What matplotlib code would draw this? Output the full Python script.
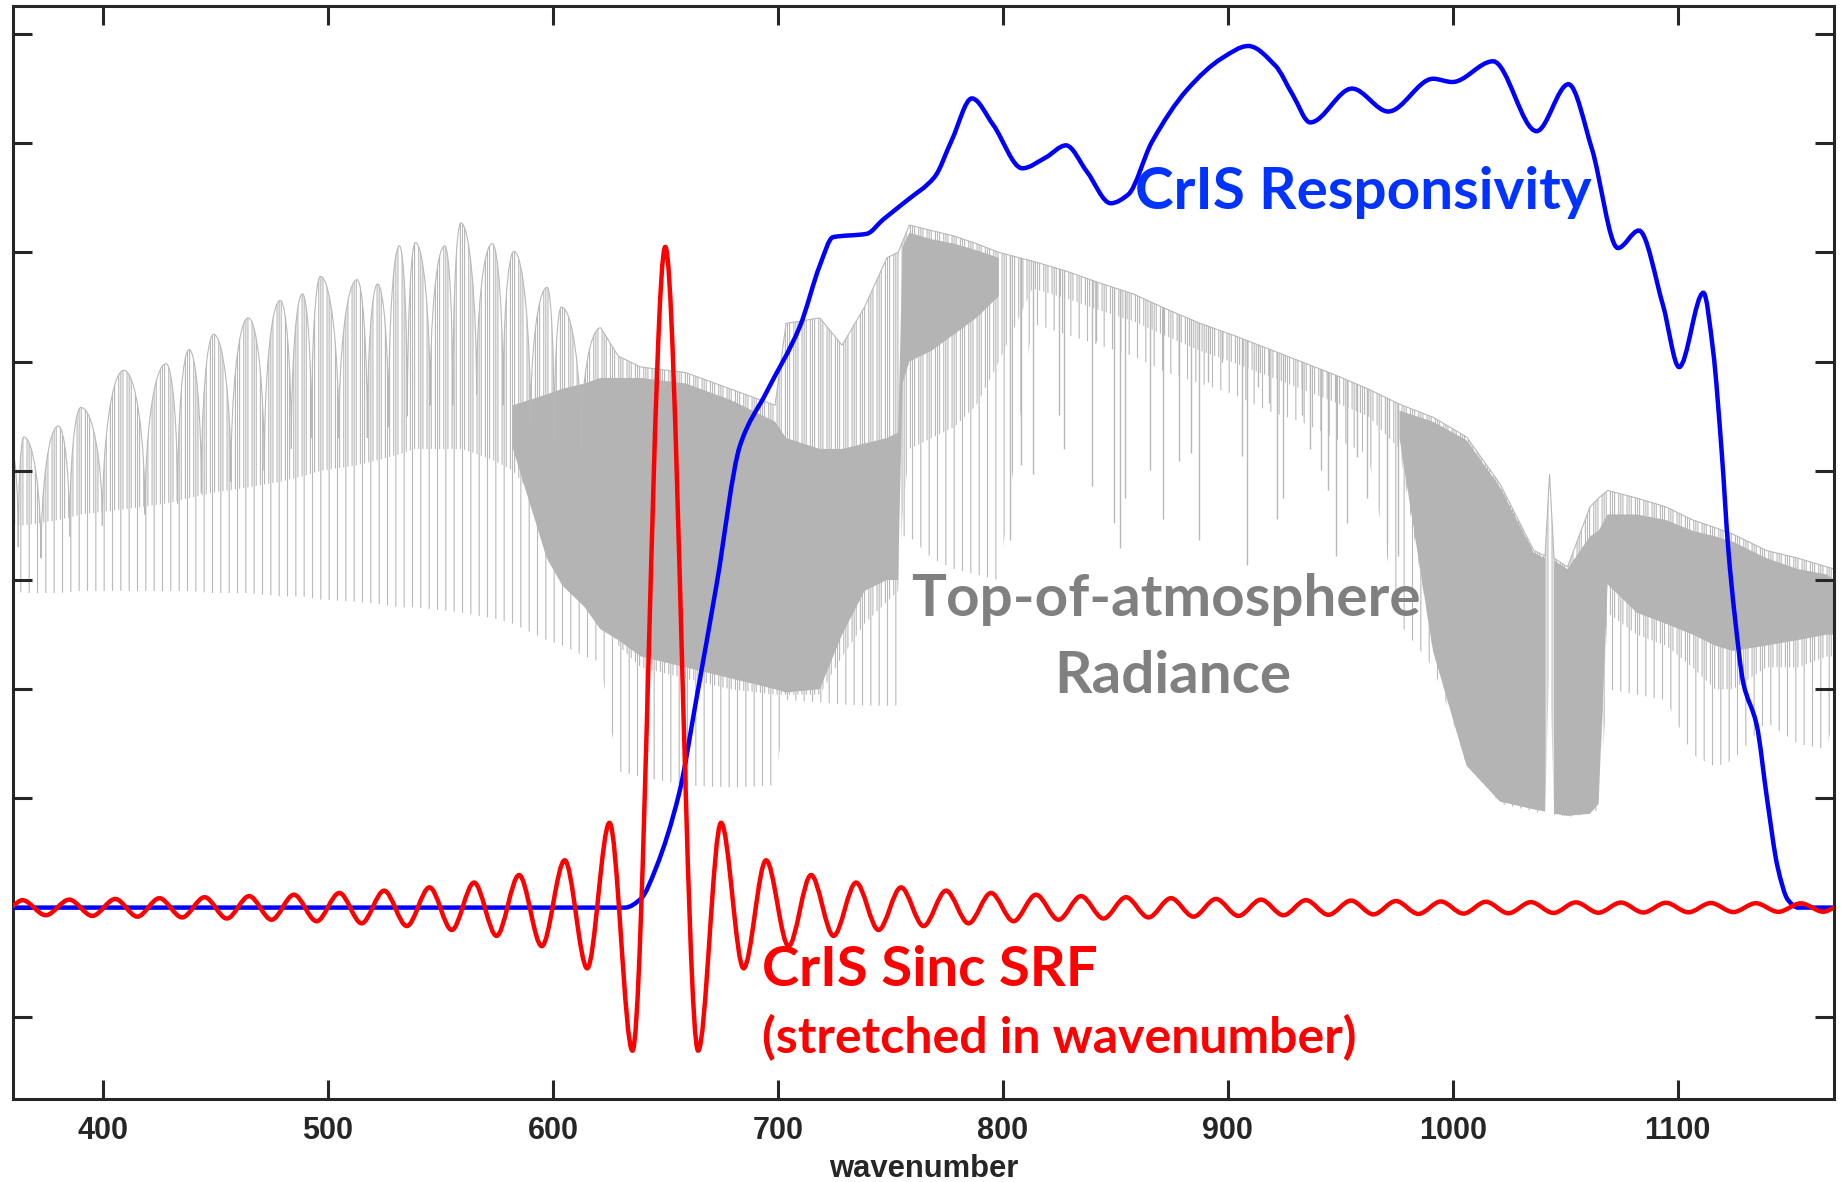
"""
CrIS responsivity, sinc SRF and top-of-atmosphere radiance (schematic).
Values read off the reference picture.
"""
import numpy as np
import matplotlib
matplotlib.use('Agg')
import matplotlib.pyplot as plt
from matplotlib.path import Path
from matplotlib.patches import PathPatch

# ── sinc SRF: extrema (wavenumber, value) ────────────────────────────────────
srf_wn = [359.8, 364.1, 374.5, 384.9, 395.2, 405.4, 415.2, 425.0, 435.1, 445.1,
          455.0, 464.9, 474.9, 484.8, 494.9, 505.0, 514.9, 524.9, 535.0, 545.1,
          555.0, 564.9, 574.9, 584.9, 595.0, 605.2, 615.2, 625.1, 635.3, 649.9,
          664.5, 674.7, 684.7, 694.7, 704.7, 714.7, 724.7, 734.7, 744.7, 754.7,
          764.7, 774.7, 784.7, 794.7, 804.7, 814.7, 824.7, 834.7, 844.7, 854.7,
          864.7, 874.7, 884.7, 894.7, 904.7, 914.7, 924.7, 934.7, 944.7, 954.7,
          964.7, 974.7, 984.7, 994.7, 1004.7, 1014.7, 1024.7, 1034.7, 1044.7, 1054.7,
          1064.7, 1074.7, 1084.7, 1094.7, 1104.7, 1114.7, 1124.7, 1134.7, 1144.7, 1154.7,
          1164.7, 1169.6]
srf_val = [0.015, 0.068, -0.070, 0.073, -0.076, 0.079, -0.083, 0.086, -0.090, 0.095,
           -0.100, 0.105, -0.111, 0.118, -0.125, 0.134, -0.144, 0.155, -0.169, 0.185,
           -0.205, 0.229, -0.259, 0.298, -0.353, 0.433, -0.556, 0.776, -1.31, 6.05,
           -1.31, 0.776, -0.556, 0.433, -0.353, 0.298, -0.259, 0.229, -0.205, 0.185,
           -0.169, 0.155, -0.144, 0.134, -0.125, 0.118, -0.111, 0.105, -0.100, 0.095,
           -0.090, 0.086, -0.083, 0.079, -0.076, 0.073, -0.070, 0.068, -0.066, 0.064,
           -0.062, 0.060, -0.058, 0.056, -0.055, 0.053, -0.052, 0.050, -0.049, 0.048,
           -0.047, 0.046, -0.045, 0.044, -0.043, 0.042, -0.041, 0.040, -0.039, 0.039,
           -0.038, 0.0]

# ── CrIS responsivity ────────────────────────────────────────────────────────
resp_wn = [359.8, 600.0, 632.0, 639.0, 645.9, 656.1, 663.8, 672.8, 683.1, 694.9,
           709.7, 718.6, 724.5, 739.4, 746.7, 757.0, 769.6, 777.3, 786.2, 795.6,
           808.6, 819.1, 828.0, 837.3, 847.9, 855.7, 866.2, 881.9, 897.5, 909.1,
           921.1, 928.9, 936.6, 955.2, 971.3, 991.2, 999.8, 1017.9, 1037.2, 1051.4,
           1061.8, 1073.4, 1082.7, 1093.5, 1100.6, 1111.4, 1115.7, 1119.5, 1122.5, 1125.4,
           1129.2, 1135.0, 1139.8, 1144.4, 1149.0, 1153.5, 1169.6]
resp_val = [0.0, 0.0, 0.0, 0.08, 0.37, 1.05, 1.92, 2.97, 4.23, 4.72,
            5.32, 5.88, 6.14, 6.17, 6.30, 6.47, 6.69, 7.03, 7.41, 7.17,
            6.77, 6.87, 6.98, 6.74, 6.45, 6.53, 7.01, 7.49, 7.78, 7.89,
            7.71, 7.44, 7.19, 7.50, 7.29, 7.59, 7.56, 7.75, 7.11, 7.54,
            6.95, 6.04, 6.20, 5.51, 4.95, 5.63, 5.10, 4.18, 3.27, 2.66,
            2.05, 1.68, 0.98, 0.37, 0.07, 0.0, 0.0]

# ── TOA radiance ─────────────────────────────────────────────────────────────
# far-IR windows (arch tops) and the line cores between them
arch_start = (359.8, 4.15)
arch_wn = [364.7, 380.1, 390.1, 409.2, 428.0, 438.2, 449.1, 464.5, 478.7, 488.6,
           496.6, 512.9, 522.0, 531.7, 538.8, 551.9, 559.0, 573.0, 582.6, 597.4,
           603.7, 621.2]
arch_top = [4.31, 4.41, 4.58, 4.92, 4.98, 5.11, 5.25, 5.40, 5.56, 5.62,
            5.78, 5.75, 5.71, 6.06, 6.09, 6.06, 6.27, 6.08, 6.01, 5.68,
            5.50, 5.31]
arch_dip = [3.3, 3.2, 3.4, 3.5, 3.6, 3.7, 3.8, 3.9, 4.0, 4.2,
            4.3, 4.3, 4.3, 4.4, 4.5, 4.6, 4.6, 4.7, 4.6, 4.4,
            4.3, 4.2]
# upper envelope beyond the far-IR windows
cont_wn = [629.0, 639.0, 658.9, 678.8, 698.7, 703.6, 718.6, 728.5, 738.5, 748.4,
           753.4, 755.4, 758.4, 768.3, 778.3, 788.2, 798.2, 813.1, 828.0, 843.0,
           857.9, 872.8, 887.7, 902.6, 917.6, 932.5, 947.4, 962.3, 976.3, 991.2,
           1006.1, 1021.0, 1036.0, 1041.0, 1043.0, 1045.0, 1051.0, 1061.0, 1064.8, 1068.8,
           1081.8, 1094.7, 1106.6, 1116.6, 1124.5, 1139.4, 1153.4, 1166.3, 1169.6]
cont_top = [5.05, 4.95, 4.90, 4.75, 4.60, 5.35, 5.40, 5.15, 5.50, 5.95,
            6.00, 6.10, 6.25, 6.20, 6.15, 6.08, 6.00, 5.92, 5.83, 5.72,
            5.62, 5.48, 5.35, 5.24, 5.12, 5.00, 4.88, 4.75, 4.61, 4.49,
            4.31, 3.88, 3.27, 3.22, 3.97, 3.20, 3.12, 3.67, 3.75, 3.82,
            3.75, 3.67, 3.55, 3.48, 3.42, 3.27, 3.20, 3.12, 3.10]

# lower limits: deepest lines, dense-line band, saturated core
nan = np.nan
rad_wn = [359.8, 365.3, 380.3, 390.2, 410.1, 428.0, 438.0, 449.0, 464.8, 478.8,
          488.7, 496.7, 512.6, 522.5, 531.5, 538.5, 552.4, 559.4, 573.3, 582.2,
          597.2, 604.1, 614.1, 621.0, 629.0, 639.0, 658.9, 678.8, 698.7, 703.6,
          718.6, 728.5, 738.5, 748.4, 753.4, 755.4, 758.4, 768.3, 778.3, 788.2,
          798.2, 813.1, 828.0, 843.0, 857.9, 872.8, 887.7, 902.6, 917.6, 932.5,
          947.4, 962.3, 976.3, 991.2, 1006.1, 1021.0, 1036.0, 1041.0, 1043.0, 1045.0,
          1051.0, 1061.0, 1064.8, 1068.8, 1081.8, 1094.7, 1106.6, 1116.6, 1124.5, 1139.4,
          1153.4, 1166.3, 1169.6]
rad_lo = [2.90, 2.88, 2.88, 2.90, 2.90, 2.90, 2.90, 2.88, 2.88, 2.85,
          2.85, 2.82, 2.80, 2.78, 2.75, 2.75, 2.72, 2.70, 2.65, 2.60,
          2.45, 2.40, 2.30, 2.25, 1.25, 1.20, 1.12, 1.10, 1.12, 1.90,
          1.88, 1.86, 1.85, 1.85, 1.85, 3.40, 3.40, 3.20, 3.10, 3.05,
          3.00, 5.35, 5.25, 5.15, 5.05, 4.90, 4.80, 4.70, 4.55, 4.45,
          4.30, 4.15, 2.60, 2.20, 1.35, 0.95, 0.88, 0.86, 2.20, 0.85,
          0.83, 0.86, 0.90, 2.00, 1.95, 1.90, 1.40, 1.29, 1.35, 1.70,
          1.50, 1.45, 1.80]
rad_mid = [3.50, 3.50, 3.55, 3.60, 3.65, 3.70, 3.75, 3.80, 3.85, 3.90,
           3.95, 4.00, 4.05, 4.10, 4.15, 4.20, 4.20, 4.20, 4.10, 4.00,
           3.60, 3.40, 3.00, 2.70, 2.40, 2.20, 2.10, 2.00, 1.95, 1.95,
           1.95, 2.30, 2.60, 2.80, 2.90, 3.60, 4.20, 4.30, 4.40, 4.60,
           5.00, 5.67, 5.58, 5.47, 5.37, 5.23, 5.10, 4.99, 4.87, 4.75,
           4.63, 4.50, 4.20, 2.35, 1.30, 0.97, 0.90, 0.88, 2.30, 0.86,
           0.84, 0.86, 0.95, 2.70, 2.50, 2.40, 2.20, 2.00, 2.00, 2.20,
           2.20, 2.30, 2.30]
core_top = [nan] * 19 + [4.60,
            4.70, 4.75, 4.80, 4.85, 4.85, 4.85, 4.80, 4.65, 4.45, 4.30,
            4.20, 4.20, 4.25, 4.30, 4.35, 6.05, 6.18, 6.12, 6.08, 6.02,
            5.95] + [nan] * 11 + [4.55, 4.45, 4.28, 3.85, 3.25, 3.20, nan, 3.18,
            3.10, 3.40, 3.45, 3.60, 3.60, 3.55, 3.45, 3.40, 3.35, 3.20,
            3.10, 3.05, 3.00]
core_lo = [nan] * 19 + [4.20,
           3.20, 2.95, 2.75, 2.55, 2.45, 2.30, 2.20, 2.10, 2.00, 1.97,
           2.00, 2.50, 2.90, 3.00, 3.00, 4.80, 5.00, 5.10, 5.25, 5.40,
           5.60] + [nan] * 11 + [4.30, 2.35, 1.30, 0.97, 0.90, 0.88, nan, 0.86,
           0.84, 0.86, 0.95, 2.96, 2.70, 2.60, 2.50, 2.40, 2.35, 2.40,
           2.45, 2.50, 2.50]
# individual deep lines in the 800-980 window (position, depth)
line_wn = [803.1, 807.9, 813.5, 825.1, 827.3, 839.5, 841.4, 849.5, 852.0, 854.4,
           865.4, 871.0, 878.3, 883.5, 887.0, 891.3, 897.2, 906.1, 908.6, 913.5,
           918.4, 922.0, 924.6, 932.8, 936.5, 941.3, 944.6, 948.1, 952.8, 957.3,
           961.7, 970.6, 975.8]
line_lo = [3.37, 4.05, 3.97, 4.51, 4.20, 3.86, 5.19, 3.52, 3.29, 3.75,
           4.01, 3.56, 4.09, 4.16, 3.37, 4.81, 5.00, 4.14, 3.14, 4.77,
           4.62, 3.56, 3.75, 4.51, 4.20, 4.01, 3.82, 3.22, 3.52, 4.13,
           3.75, 3.33, 3.22]

XTICKS = [400, 500, 600, 700, 800, 900, 1000, 1100]
YTICKS = list(range(-1, 9))

BLUE, RED = '#0000ff', '#ff0000'
GRAY_LINE, GRAY_CORE = '#b8b8b8', '#b4b4b4'
TXT_FONT = ['Lato', 'DejaVu Sans']


def smooth_path(x, y):
    """Monotone cubic (Bezier) path through the given points."""
    x = np.asarray(x, float); y = np.asarray(y, float)
    d = np.diff(y) / np.diff(x)
    m = np.zeros_like(x)
    m[0], m[-1] = d[0], d[-1]
    for i in range(1, len(x) - 1):
        if d[i - 1] * d[i] > 0:
            m[i] = 2.0 / (1.0 / d[i - 1] + 1.0 / d[i])
    verts = [(x[0], y[0])]
    codes = [Path.MOVETO]
    for i in range(len(x) - 1):
        h = (x[i + 1] - x[i]) / 3.0
        verts += [(x[i] + h, y[i] + m[i] * h),
                  (x[i + 1] - h, y[i + 1] - m[i + 1] * h),
                  (x[i + 1], y[i + 1])]
        codes += [Path.CURVE4] * 3
    return Path(verts, codes)


def spectrum_top(k=0.5523):
    """Upper outline: rounded windows with narrow line cores, then envelope."""
    px, py = arch_start
    verts, codes = [(px, py)], [Path.MOVETO]
    for x, t, d in zip(arch_wn, arch_top, arch_dip):
        xb = 0.5 * (px + x)
        verts += [(px + k * (xb - px), py), (xb, d + k * (py - d)), (xb, d),
                  (xb, d + k * (t - d)), (x - k * (x - xb), t), (x, t)]
        codes += [Path.CURVE4] * 6
        px, py = x, t
    verts += list(zip(cont_wn, cont_top))
    codes += [Path.LINETO] * len(cont_wn)
    return verts, codes


def band_path(lower_x, lower_y):
    verts, codes = spectrum_top()
    verts += list(zip(lower_x[::-1], lower_y[::-1])) + [(0, 0)]
    codes += [Path.LINETO] * len(lower_x) + [Path.CLOSEPOLY]
    return Path(verts, codes)


plt.rcParams['hatch.linewidth'] = 0.8
plt.rcParams['hatch.color'] = GRAY_LINE

fig = plt.figure(figsize=(18.43, 11.82), dpi=100)
ax = fig.add_axes([0.0069, 0.0702, 0.9884, 0.9247])

# radiance: deep lines, dense lines near the top, saturated core, outline
ax.add_patch(PathPatch(band_path(rad_wn, rad_lo), facecolor='none',
                       edgecolor=GRAY_LINE, hatch='||', linewidth=0, zorder=1))
ax.add_patch(PathPatch(band_path(rad_wn, rad_mid), facecolor='none',
                       edgecolor=GRAY_LINE, hatch='||||', linewidth=0, zorder=1))
ax.fill_between(rad_wn, np.array(core_lo), np.array(core_top), color=GRAY_CORE,
                linewidth=0, zorder=1)
under = PathPatch(band_path([359.8, 1169.6], [-2.0, -2.0]), transform=ax.transData)
deep = ax.vlines(line_wn, line_lo, 7.0, colors=GRAY_LINE, lw=1.0, zorder=1)
deep.set_clip_path(under)
tv, tc = spectrum_top()
ax.add_patch(PathPatch(Path(tv, tc), fill=False, edgecolor=GRAY_LINE, lw=0.8,
                       zorder=1))

ax.add_patch(PathPatch(smooth_path(resp_wn, resp_val), fill=False,
                       edgecolor=BLUE, lw=3.2, zorder=3, capstyle='round'))
ax.add_patch(PathPatch(smooth_path(srf_wn, srf_val), fill=False,
                       edgecolor=RED, lw=3.2, zorder=4, capstyle='round'))

ax.text(960.3, 6.55, 'CrIS Responsivity', color='#0033ff', fontsize=42,
        fontweight='bold', family=TXT_FONT, ha='center', va='center', zorder=5)
ax.text(872.5, 2.82, 'Top-of-atmosphere', color='#808080', fontsize=42,
        fontweight='bold', family=TXT_FONT, ha='center', va='center', zorder=5)
ax.text(875.6, 2.12, 'Radiance', color='#808080', fontsize=42,
        fontweight='bold', family=TXT_FONT, ha='center', va='center', zorder=5)
ax.text(692.8, -0.57, 'CrIS Sinc SRF', color=RED, fontsize=40.5,
        fontweight='bold', family=TXT_FONT, ha='left', va='center', zorder=5)
ax.text(692.8, -1.19, '(stretched in wavenumber)', color=RED, fontsize=36,
        fontweight='bold', family=TXT_FONT, ha='left', va='center', zorder=5)

ax.set_xlim(359.8, 1169.6)
ax.set_ylim(-1.753, 8.256)
ax.set_xticks(XTICKS)
ax.set_yticks(YTICKS)
ax.set_yticklabels([])
ax.tick_params(direction='in', length=13.5, width=2.2, color='#262626',
               top=True, right=True, labelsize=22, pad=12)
for lbl in ax.get_xticklabels():
    lbl.set_fontweight('bold'); lbl.set_family('Liberation Sans')
    lbl.set_color('#262626')
for sp in ax.spines.values():
    sp.set_linewidth(2.2); sp.set_color('#262626')

ax.set_xlabel('wavenumber', fontsize=22.3, fontweight='bold',
              family='Liberation Sans', color='#262626')
ax.xaxis.set_label_coords(0.5, -0.0714)
ax.xaxis.label.set_va('baseline')

fig.savefig('out.png', dpi=100)
